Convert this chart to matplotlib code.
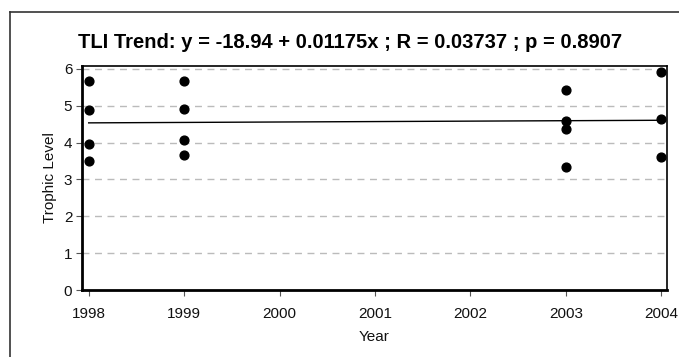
import matplotlib
matplotlib.use("Agg")
import matplotlib.pyplot as plt
from matplotlib.lines import Line2D
import numpy as np

# data
years_1998 = [1998, 1998, 1998, 1998]
tli_1998 = [5.67, 4.88, 3.95, 3.49]
years_1999 = [1999, 1999, 1999, 1999]
tli_1999 = [5.67, 4.92, 4.08, 3.66]
years_2003 = [2003, 2003, 2003, 2003]
tli_2003 = [5.43, 4.59, 4.38, 3.33]
years_2004 = [2004, 2004, 2004]
tli_2004 = [5.92, 4.65, 3.62]

intercept = -18.94
slope = 0.01175
trend_x = [1998, 2004]
x_ticks = [1998, 1999, 2000, 2001, 2002, 2003, 2004]
y_ticks = [0, 1, 2, 3, 4, 5, 6]

years = years_1998 + years_1999 + years_2003 + years_2004
tli = tli_1998 + tli_1999 + tli_2003 + tli_2004

plt.rcParams['font.family'] = ['Liberation Sans', 'DejaVu Sans']

fig = plt.figure(figsize=(6.79, 3.57), dpi=100)
ax = fig.add_axes([82 / 679, 1 - 290 / 357, (667 - 82) / 679, (290 - 66) / 357])

ax.scatter(years, tli, s=40, color='black', zorder=3, clip_on=False)
tx = np.array(trend_x)
ax.plot(tx, intercept + slope * tx, color='black', lw=1.0, zorder=2)

ax.set_xlim(1997.93, 2004.06)
ax.set_ylim(0, 6.08)
ax.set_xticks(x_ticks)
ax.set_yticks(y_ticks)
ax.tick_params(axis='both', labelsize=11, length=4, width=0.8, color='#555555',
               labelcolor='#111111', pad=3)
ax.tick_params(axis='x', pad=8)
for y in y_ticks[1:]:
    ax.axhline(y, color='#bbbbbb', lw=1.0, ls=(0, (5, 4)), zorder=1)

for side in ['left', 'bottom']:
    ax.spines[side].set_linewidth(2.0)
for side in ['top', 'right']:
    ax.spines[side].set_linewidth(1.2)

ax.set_xlabel('Year', fontsize=11, labelpad=7, color='#111111')
ax.set_ylabel('Trophic Level', fontsize=11, labelpad=5, color='#111111')

fig.text(350 / 679, 1 - 42 / 357,
         'TLI Trend: y = -18.94 + 0.01175x ; R = 0.03737 ; p = 0.8907',
         ha='center', va='center', fontsize=14.5, fontweight='bold',
         family=['Liberation Sans Narrow', 'Liberation Sans', 'DejaVu Sans'])

# outer frame (left and top edges visible)
fig.add_artist(Line2D([10 / 679, 10 / 679], [0, 1 - 12 / 357], transform=fig.transFigure,
                      color='#333333', lw=1.2))
fig.add_artist(Line2D([10 / 679, 1], [1 - 12 / 357, 1 - 12 / 357], transform=fig.transFigure,
                      color='#333333', lw=1.2))

fig.savefig('out.png', dpi=100)
